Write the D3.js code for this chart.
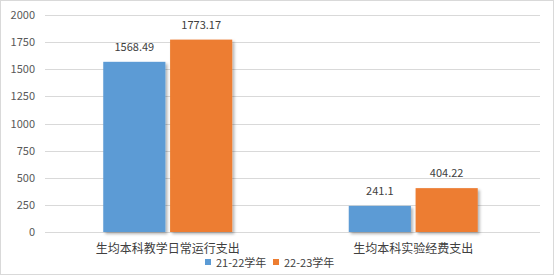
<!DOCTYPE html>
<html>
<head>
  <meta charset="utf-8">
  <script src="https://d3js.org/d3.v7.min.js"></script>
  <style>
    body { margin: 0; background: #fff; }
    text { font-family: "Noto Sans CJK SC", "Noto Sans", sans-serif; }
  </style>
</head>
<body>
  <svg id="chart" width="555" height="276"></svg>
  <script>
    // data
    var categories = ["生均本科教学日常运行支出", "生均本科实验经费支出"];
    var seriesNames = ["21-22学年", "22-23学年"];
    var values2122 = [1568.49, 241.1];
    var values2223 = [1773.17, 404.22];
    var yTicks = [0, 250, 500, 750, 1000, 1250, 1500, 1750, 2000];
    var colors = ["#5B9BD5", "#ED7D31"];

    var series = [values2122, values2223];

    var svg = d3.select("#chart");
    var plotL = 45, plotR = 536, plotT = 15, plotB = 232;

    svg.append("rect")
      .attr("x", 0.5).attr("y", 0.5)
      .attr("width", 553).attr("height", 274)
      .attr("fill", "#fff").attr("stroke", "#d9d9d9");

    var defs = svg.append("defs");
    var f = defs.append("filter").attr("id", "shadow")
      .attr("x", "-10%").attr("y", "-10%").attr("width", "130%").attr("height", "130%");
    f.append("feDropShadow")
      .attr("dx", 2).attr("dy", 2).attr("stdDeviation", 1.5)
      .attr("flood-color", "#000").attr("flood-opacity", 0.3);

    var y = d3.scaleLinear().domain([0, 2000]).range([plotB, plotT]);
    var x = d3.scaleBand().domain(categories).range([plotL, plotR]);
    var x1 = d3.scaleBand().domain([0, 1]).range([0, 129]).paddingInner(0.07);
    var groupOffset = (x.bandwidth() - 129) / 2;

    // grid lines
    svg.append("g").selectAll("line")
      .data(yTicks)
      .join("line")
      .attr("x1", plotL).attr("x2", 540)
      .attr("y1", function (d) { return Math.round(y(d)) + 0.5; })
      .attr("y2", function (d) { return Math.round(y(d)) + 0.5; })
      .attr("stroke", "#d9d9d9").attr("stroke-width", 1);

    // y axis labels
    var yAxis = d3.axisLeft(y).tickValues(yTicks).tickSize(0).tickPadding(0).tickFormat(d3.format("d"));
    var gy = svg.append("g").attr("transform", "translate(35,0)").call(yAxis);
    gy.select(".domain").remove();
    gy.selectAll("text")
      .attr("fill", "#595959")
      .attr("font-size", "11px")
      .attr("font-family", "'Liberation Sans', 'Noto Sans', sans-serif");

    // bars
    series.forEach(function (vals, si) {
      var g = svg.append("g");
      g.selectAll("rect")
        .data(vals)
        .join("rect")
        .attr("x", function (d, i) { return x(categories[i]) + groupOffset + x1(si); })
        .attr("y", function (d) { return y(d); })
        .attr("width", x1.bandwidth())
        .attr("height", function (d) { return plotB - y(d); })
        .attr("fill", colors[si])
        .attr("filter", "url(#shadow)");

      g.selectAll("text")
        .data(vals)
        .join("text")
        .attr("x", function (d, i) { return x(categories[i]) + groupOffset + x1(si) + x1.bandwidth() / 2; })
        .attr("y", function (d) { return y(d) - 11; })
        .attr("text-anchor", "middle")
        .attr("fill", "#404040")
        .attr("font-size", "11px")
        .attr("font-family", "'Liberation Sans', 'Noto Sans', sans-serif")
        .text(function (d) { return d; });
    });

    // category labels
    svg.append("g").selectAll("text")
      .data(categories)
      .join("text")
      .attr("x", function (d) { return x(d) + x.bandwidth() / 2; })
      .attr("y", 253)
      .attr("text-anchor", "middle")
      .attr("fill", "#404040")
      .attr("font-size", "12px")
      .text(function (d) { return d; });

    // legend
    var legendX = [205, 273];
    var lg = svg.append("g").selectAll("g")
      .data(seriesNames)
      .join("g")
      .attr("transform", function (d, i) { return "translate(" + legendX[i] + ",0)"; });
    lg.append("rect")
      .attr("x", 0).attr("y", 259)
      .attr("width", 6).attr("height", 6)
      .attr("fill", function (d, i) { return colors[i]; });
    lg.append("text")
      .attr("x", 11).attr("y", 267)
      .attr("fill", "#404040")
      .attr("font-size", "11px")
      .text(function (d) { return d; });
  </script>
</body>
</html>
